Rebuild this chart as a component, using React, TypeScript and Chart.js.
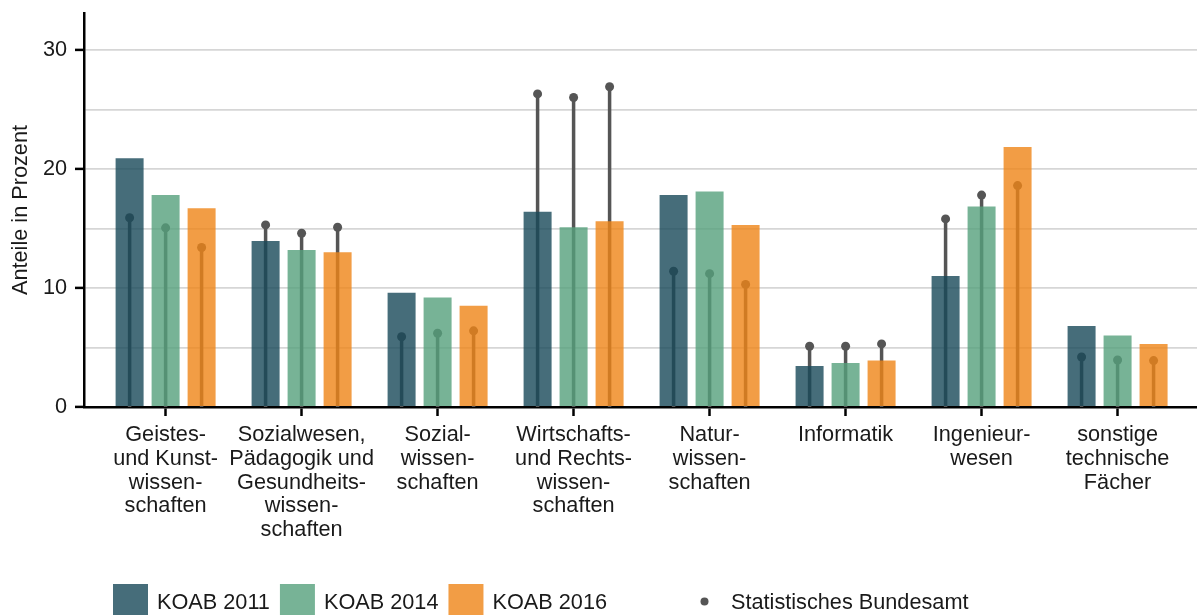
import React, { useEffect, useRef } from "react";
import { Chart, registerables } from "chart.js";

Chart.register(...registerables);

const categories: string[][] = [
  ["Geistes-", "und Kunst-", "wissen-", "schaften"],
  ["Sozialwesen,", "Pädagogik und", "Gesundheits-", "wissen-", "schaften"],
  ["Sozial-", "wissen-", "schaften"],
  ["Wirtschafts-", "und Rechts-", "wissen-", "schaften"],
  ["Natur-", "wissen-", "schaften"],
  ["Informatik"],
  ["Ingenieur-", "wesen"],
  ["sonstige", "technische", "Fächer"],
];

const seriesNames = ["KOAB 2011", "KOAB 2014", "KOAB 2016"];
const koab2011 = [20.9, 13.95, 9.6, 16.4, 17.8, 3.45, 11.0, 6.8];
const koab2014 = [17.8, 13.2, 9.2, 15.1, 18.1, 3.7, 16.85, 6.0];
const koab2016 = [16.7, 13.0, 8.5, 15.6, 15.3, 3.9, 21.85, 5.3];

const statLabel = "Statistisches Bundesamt";
const stat2011 = [15.9, 15.3, 5.9, 26.3, 11.4, 5.1, 15.8, 4.2];
const stat2014 = [15.05, 14.6, 6.2, 26.0, 11.2, 5.1, 17.8, 3.95];
const stat2016 = [13.4, 15.1, 6.4, 26.9, 10.3, 5.3, 18.6, 3.9];

const yTicks = [0, 5, 10, 15, 20, 25, 30];

const barColors = ["rgba(24,73,89,0.8)", "rgba(85,160,124,0.8)", "rgba(239,132,22,0.8)"];
const statColor = "#555555";
const textColor = "#1a1a1a";
const FONT = '"Liberation Sans", Arial, Helvetica, sans-serif';
const FS = 21.7;

export default function App() {
  const ref = useRef<HTMLCanvasElement | null>(null);

  useEffect(() => {
    document.body.style.margin = "0";
    const canvas = ref.current;
    if (!canvas) return;

    const values = [koab2011, koab2014, koab2016];
    const stats = [stat2011, stat2014, stat2016];

    const lollipops = {
      id: "lollipops",
      beforeDatasetsDraw(chart: any) {
        const ctx = chart.ctx;
        const yScale = chart.scales.y;
        ctx.save();
        stats.forEach((arr, k) => {
          const meta = chart.getDatasetMeta(k);
          arr.forEach((v, j) => {
            const el = meta.data[j];
            if (!el) return;
            const x = el.x;
            const y0 = yScale.getPixelForValue(0);
            const y1 = yScale.getPixelForValue(v);
            ctx.strokeStyle = statColor;
            ctx.lineWidth = 3.5;
            ctx.beginPath();
            ctx.moveTo(x, y0);
            ctx.lineTo(x, y1);
            ctx.stroke();
            ctx.fillStyle = statColor;
            ctx.beginPath();
            ctx.arc(x, y1, 4.5, 0, Math.PI * 2);
            ctx.fill();
          });
        });
        ctx.restore();
      },
    };

    const legendPlugin = {
      id: "customLegend",
      afterDraw(chart: any) {
        const ctx = chart.ctx;
        ctx.save();
        ctx.font = `${FS}px ${FONT}`;
        ctx.textBaseline = "alphabetic";
        const cy = 601.5;
        const key = 35;
        let x = 113;
        seriesNames.forEach((name, i) => {
          ctx.fillStyle = "#ffffff";
          ctx.fillRect(x, cy - key / 2, key, key);
          ctx.fillStyle = barColors[i];
          ctx.fillRect(x, cy - key / 2, key, key);
          ctx.fillStyle = textColor;
          ctx.fillText(name, x + key + 9, cy + 7.7);
          x += key + 9 + ctx.measureText(name).width + 10;
        });
        x += 70;
        ctx.fillStyle = statColor;
        ctx.beginPath();
        ctx.arc(x + key / 2, cy, 4, 0, Math.PI * 2);
        ctx.fill();
        ctx.fillStyle = textColor;
        ctx.fillText(statLabel, x + key + 9, cy + 7.7);
        ctx.restore();
      },
    };

    const chart = new Chart(canvas, {
      type: "bar",
      data: {
        datasets: values.map((arr, k) => ({
          label: seriesNames[k],
          data: arr.map((v, i) => ({ x: i, y: v })),
          backgroundColor: barColors[k],
          borderWidth: 0,
          categoryPercentage: 108 / 136,
          barPercentage: 28 / 36,
        })),
      },
      options: {
        animation: false,
        responsive: false,
        devicePixelRatio: 1,
        layout: { padding: { top: 13, left: 0, right: 0, bottom: 0 } },
        plugins: {
          legend: { display: false },
          tooltip: { enabled: false },
        },
        scales: {
          x: {
            type: "linear",
            offset: false,
            min: -0.6,
            max: 7.584,
            afterBuildTicks: (scale: any) => {
              scale.ticks = categories.map((_, i) => ({ value: i }));
            },
            afterFit: (scale: any) => {
              scale.height = 208;
              scale.paddingLeft = 0;
              scale.paddingRight = 0;
            },
            ticks: {
              autoSkip: false,
              maxRotation: 0,
              minRotation: 0,
              padding: 7.5,
              color: textColor,
              font: { family: FONT, size: FS, lineHeight: 1.09 },
              callback: (v: any) => categories[Math.round(Number(v))] ?? "",
            },
            grid: {
              offset: false,
              drawOnChartArea: false,
              drawTicks: true,
              tickLength: 9,
              tickColor: "#000000",
              tickWidth: 2.5,
            },
            border: { display: true, color: "#000000", width: 2.5 },
          },
          y: {
            min: 0,
            max: 33.1,
            stacked: false,
            afterBuildTicks: (scale: any) => {
              scale.ticks = yTicks.map((v) => ({ value: v }));
            },
            afterFit: (scale: any) => {
              scale.width = 84;
              scale.paddingTop = 0;
              scale.paddingBottom = 0;
            },
            title: {
              display: true,
              text: "Anteile in Prozent",
              color: textColor,
              font: { family: FONT, size: FS, lineHeight: 1.2 },
              padding: { top: 8.5, bottom: 0 },
            },
            ticks: {
              padding: 8,
              color: textColor,
              font: { family: FONT, size: FS },
              callback: (v: any) => (Number(v) % 10 === 0 ? String(v) : ""),
            },
            grid: {
              color: (c: any) => (c.tick && c.tick.value === 0 ? "rgba(0,0,0,0)" : "#d6d6d6"),
              lineWidth: 1.8,
              drawTicks: true,
              tickLength: 9,
              tickWidth: 2.5,
              tickColor: (c: any) => (c.tick && c.tick.value % 10 === 0 ? "#000000" : "rgba(0,0,0,0)"),
            },
            border: { display: true, color: "#000000", width: 2.5 },
          },
        },
      },
      plugins: [lollipops, legendPlugin],
    });

    return () => {
      chart.destroy();
    };
  }, []);

  return (
    <div style={{ width: 1197, height: 615, overflow: "hidden", background: "#ffffff" }}>
      <canvas ref={ref} width={1197} height={615} style={{ display: "block" }} />
    </div>
  );
}
